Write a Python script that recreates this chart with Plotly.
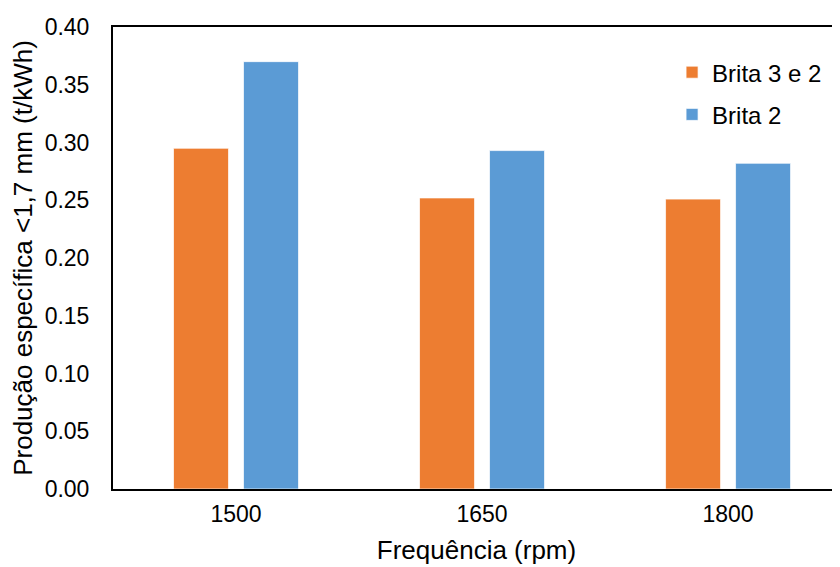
import plotly.graph_objects as go

categories = ["1500", "1650", "1800"]
series_names = ["Brita 3 e 2", "Brita 2"]
brita_3e2 = [0.295, 0.252, 0.251]
brita_2 = [0.370, 0.293, 0.282]
y_ticks = [0.00, 0.05, 0.10, 0.15, 0.20, 0.25, 0.30, 0.35, 0.40]

colors = ["#ED7D31", "#5B9BD5"]
FONT = "Liberation Sans, Arial, sans-serif"

fig = go.Figure()
for i, (name, vals) in enumerate(zip(series_names, [brita_3e2, brita_2])):
    fig.add_trace(go.Bar(
        x=categories, y=vals, name=name,
        marker=dict(color=colors[i], line=dict(color="rgba(255,255,255,0.7)", width=1)),
        legendgroup=f"g{i}",
    ))

fig.update_layout(
    width=832, height=559,
    margin=dict(l=105, r=0, t=19, b=78),
    paper_bgcolor="white", plot_bgcolor="white",
    font=dict(family=FONT, color="#000000", size=23),
    barmode="group", bargap=0.431, bargroupgap=0.214,
    showlegend=True,
    legend=dict(
        x=0.769, xanchor="left", y=0.95, yanchor="top",
        font=dict(family=FONT, size=24, color="#000000"),
        bgcolor="rgba(0,0,0,0)", tracegroupgap=8,
        traceorder="grouped",
    ),
    xaxis=dict(
        type="category", range=[-0.5, 2.455],
        showline=True, linecolor="#000000", linewidth=2, mirror=True,
        showgrid=False, ticks="", zeroline=False,
        tickfont=dict(size=23, family=FONT), ticklabelstandoff=3,
        title=dict(text="Frequência (rpm)", font=dict(size=26, family=FONT), standoff=15),
    ),
    yaxis=dict(
        range=[0, 0.40], tickvals=y_ticks, tickformat=".2f",
        showline=True, linecolor="#000000", linewidth=2,
        showgrid=False, ticks="", zeroline=False,
        tickfont=dict(size=23, family=FONT), ticklabelstandoff=17,
        title=dict(text="Produção específica <1,7 mm (t/kWh)", font=dict(size=26, family=FONT), standoff=8),
    ),
)

fig.write_html("out.html")
